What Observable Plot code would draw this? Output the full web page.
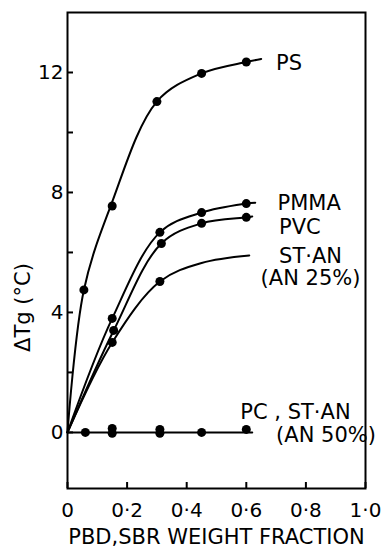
<!DOCTYPE html>
<html>
<head>
<meta charset="utf-8">
<script src="https://cdn.jsdelivr.net/npm/d3@7"></script>
<script src="https://cdn.jsdelivr.net/npm/@observablehq/plot@0.6"></script>
<style>
  html, body { margin: 0; padding: 0; background: #fff; }
  svg { display: block; }
  g[aria-label="xlabel"] text { letter-spacing: 2.8px; }
  g[aria-label="ylabel"] text { letter-spacing: 3px; }
</style>
</head>
<body>
<div id="chart"></div>
<script>
// ---- data ----
const psX = [0.055, 0.15, 0.30, 0.45, 0.60];
const psY = [4.75, 7.55, 11.03, 11.97, 12.35];
const psCurveX = [0, 0.055, 0.145, 0.30, 0.45, 0.60, 0.65];
const psCurveY = [0, 4.75, 7.55, 11.03, 11.97, 12.35, 12.45];

const pmmaX = [0.15, 0.31, 0.45, 0.60];
const pmmaY = [3.8, 6.67, 7.33, 7.63];
const pmmaCurveX = [0, 0.15, 0.31, 0.45, 0.60, 0.63];
const pmmaCurveY = [0, 3.8, 6.67, 7.33, 7.63, 7.66];

const pvcX = [0.155, 0.315, 0.45, 0.60];
const pvcY = [3.4, 6.3, 6.97, 7.17];
const pvcCurveX = [0, 0.155, 0.315, 0.45, 0.60, 0.62];
const pvcCurveY = [0, 3.4, 6.3, 6.97, 7.17, 7.2];

const stan25X = [0.15, 0.31];
const stan25Y = [3.0, 5.03];
const stan25CurveX = [0, 0.15, 0.31, 0.45, 0.61];
const stan25CurveY = [0, 3.0, 5.03, 5.65, 5.9];

const pcX = [0.06, 0.15, 0.15, 0.31, 0.31, 0.45, 0.60];
const pcY = [0.0, -0.03, 0.13, -0.03, 0.1, 0.0, 0.1];
const pcCurveX = [0, 0.62];
const pcCurveY = [0, 0];

const xTicks = [0, 0.2, 0.4, 0.6, 0.8, 1.0];
const xTickLabels = ["0", "0·2", "0·4", "0·6", "0·8", "1·0"];
const yTicksMajor = [0, 4, 8, 12];
const yTicksMinor = [2, 6, 10];

const seriesLabels = ["PS", "PMMA", "PVC", "ST·AN", "(AN 25%)", "PC , ST·AN", "(AN 50%)"];
const labelX = [0.70, 0.705, 0.71, 0.71, 0.648, 0.58, 0.70];
const labelY = [12.3, 7.63, 6.83, 5.87, 5.13, 0.67, -0.1];

// ---- build tables ----
const zip = (xs, ys, s) => xs.map((x, i) => ({x, y: ys[i], s}));
const curves = [
  ...zip(psCurveX, psCurveY, "PS"),
  ...zip(pmmaCurveX, pmmaCurveY, "PMMA"),
  ...zip(pvcCurveX, pvcCurveY, "PVC"),
  ...zip(stan25CurveX, stan25CurveY, "STAN25"),
  ...zip(pcCurveX, pcCurveY, "PC")
];
const points = [
  ...zip(psX, psY, "PS"),
  ...zip(pmmaX, pmmaY, "PMMA"),
  ...zip(pvcX, pvcY, "PVC"),
  ...zip(stan25X, stan25Y, "STAN25"),
  ...zip(pcX, pcY, "PC")
];
const labels = seriesLabels.map((t, i) => ({t, x: labelX[i], y: labelY[i]}));

const font = "'DejaVu Sans', sans-serif";

const chart = Plot.plot({
  width: 383,
  height: 550,
  marginLeft: 67,
  marginRight: 18,
  marginTop: 12,
  marginBottom: 62,
  style: {fontFamily: font, fontSize: "20px", color: "#000", background: "#fff"},
  x: {domain: [0, 1], axis: null},
  y: {domain: [-1.87, 14], axis: null},
  marks: [
    // inward ticks
    Plot.axisX({ticks: xTicks, tickSize: -6, text: null, label: null, stroke: "#000", strokeWidth: 2}),
    Plot.axisY({ticks: [...yTicksMajor, ...yTicksMinor], tickSize: -6, text: null, label: null, stroke: "#000", strokeWidth: 2}),
    // tick labels
    Plot.text(xTicks, {x: d => d, frameAnchor: "bottom", lineAnchor: "middle", dy: 22, text: (d, i) => xTickLabels[i], fontSize: 20, fill: "#000"}),
    Plot.text(yTicksMajor, {y: d => d, frameAnchor: "left", textAnchor: "end", dx: -4, text: d => String(d), fontSize: 20, fill: "#000"}),
    Plot.frame({stroke: "#000", strokeWidth: 2}),
    Plot.line(curves, {x: "x", y: "y", z: "s", curve: "catmull-rom", stroke: "#000", strokeWidth: 2}),
    Plot.dot(points, {x: "x", y: "y", r: 4.5, fill: "#000", stroke: "none"}),
    Plot.text(labels, {x: "x", y: "y", text: "t", textAnchor: "start", fontSize: 21, fill: "#000"}),
    Plot.text(["ΔTg (°C)"], {ariaLabel: "ylabel", frameAnchor: "left", textAnchor: "middle", dx: -44, dy: 57, rotate: -90, fontSize: 21, fill: "#000"}),
    Plot.text(["PBD,SBR WEIGHT FRACTION"], {ariaLabel: "xlabel", frameAnchor: "bottom", lineAnchor: "middle", dy: 49, fontSize: 21, fill: "#000"})
  ]
});
document.getElementById("chart").appendChild(chart);
</script>
</body>
</html>
